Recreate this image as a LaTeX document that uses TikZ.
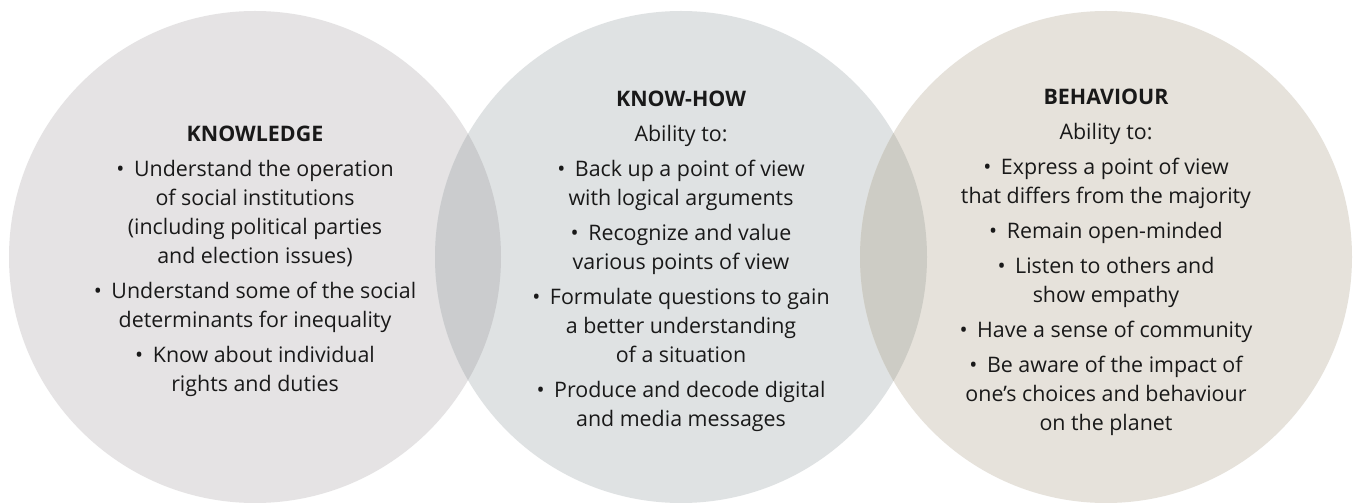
\documentclass[tikz,border=0pt]{standalone}
\usepackage{fontspec}
\setmainfont{Open Sans}
\usetikzlibrary{positioning}
\definecolor{knowgray}{RGB}{229,227,228}
\definecolor{howgray}{RGB}{223,226,227}
\definecolor{behavbeige}{RGB}{230,226,219}
\definecolor{lensleft}{RGB}{203,204,206}
\definecolor{lensright}{RGB}{205,204,197}
\definecolor{textdark}{RGB}{25,25,25}

\tikzset{
  disc/.style={circle, minimum size=246pt, inner sep=0pt},
  blurb/.style={align=center, text=textdark, inner sep=0pt,
    font=\fontsize{10.7}{14.5}\selectfont},
}
\newcommand{\itm}{\textbullet\hspace{0.45em}}

\begin{document}
\begin{tikzpicture}[x=0.5pt,y=0.5pt]
\useasboundingbox[fill=white] (0,0) rectangle (1357,504);
% Three discs
\node[disc, fill=knowgray] (knowledge) at (255,247) {};
\node[disc, fill=howgray] (knowhow) at (681,247) {};
\node[disc, fill=behavbeige] (behaviour) at (1106,247) {};
% Overlaps
\begin{scope}
  \clip (knowledge.center) circle[radius=123pt];
  \fill[lensleft] (knowhow.center) circle[radius=123pt];
\end{scope}
\begin{scope}
  \clip (knowhow.center) circle[radius=123pt];
  \fill[lensright] (behaviour.center) circle[radius=123pt];
\end{scope}
% Texts
\node[blurb, yshift=-2pt] (knowtext) at (knowledge.center) {%
  \textbf{KNOWLEDGE}\\[3pt]
  \itm Understand the operation\\
  of social institutions\\
  (including political parties\\
  and election issues)\\[3pt]
  \itm Understand some of the social\\
  determinants for inequality\\[3pt]
  \itm Know about individual\\
  rights and duties};
\node[blurb, yshift=-2pt] (howtext) at (knowhow.center) {%
  \textbf{KNOW-HOW}\\[3pt]
  Ability to:\\[3pt]
  \itm Back up a point of view\\
  with logical arguments\\[3pt]
  \itm Recognize and value\\
  various points of view\\[3pt]
  \itm Formulate questions to gain\\
  a better understanding\\
  of a situation\\[3pt]
  \itm Produce and decode digital\\
  and media messages};
\node[blurb, yshift=-2.5pt] (behavtext) at (behaviour.center) {%
  \textbf{BEHAVIOUR}\\[3pt]
  Ability to:\\[3pt]
  \itm Express a point of view\\
  that differs from the majority\\[3pt]
  \itm Remain open-minded\\[3pt]
  \itm Listen to others and\\
  show empathy\\[3pt]
  \itm Have a sense of community\\[3pt]
  \itm Be aware of the impact of\\
  one’s choices and behaviour\\
  on the planet};
\end{tikzpicture}
\end{document}
